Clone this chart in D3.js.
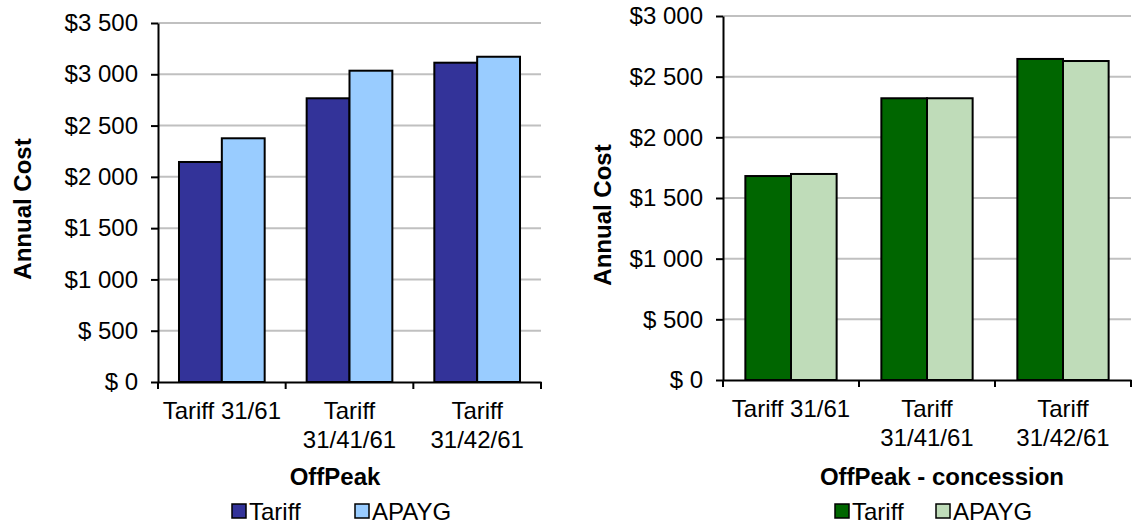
<!DOCTYPE html>
<html>
<head>
<meta charset="utf-8">
<script src="https://cdn.jsdelivr.net/npm/d3@7"></script>
<style>
  body { margin: 0; background: #fff; }
  text { font-family: "Liberation Sans", Arial, sans-serif; fill: #000; }
</style>
</head>
<body>
<div id="chart"></div>
<script>
// chart values
var categories = ["Tariff 31/61", "Tariff 31/41/61", "Tariff 31/42/61"];
var seriesNames = ["Tariff", "APAYG"];
var offPeakTariff = [2145, 2766, 3113];
var offPeakApayg = [2376, 3035, 3171];
var concessionTariff = [1681, 2322, 2646];
var concessionApayg = [1698, 2322, 2629];
var offPeakTicks = [0, 500, 1000, 1500, 2000, 2500, 3000, 3500];
var concessionTicks = [0, 500, 1000, 1500, 2000, 2500, 3000];

var svg = d3.select("#chart")
  .append("svg")
    .attr("width", 1136)
    .attr("height", 524);

function money(d) {
  if (d < 1000) return "$ " + d;
  var rest = String(d % 1000).padStart(3, "0");
  return "$" + Math.floor(d / 1000) + " " + rest;
}

function drawChart(c) {
  var g = svg.append("g");
  var x0 = d3.scaleBand().domain(categories).range([c.left, c.right]);
  var x1 = d3.scaleBand().domain(seriesNames).range([0, x0.bandwidth()]).paddingOuter(0.49);
  var y = d3.scaleLinear().domain([0, d3.max(c.ticks)]).range([c.bottom, c.top]);

  // gridlines
  g.append("g")
    .selectAll("line")
    .data(c.ticks.slice(1))
    .enter()
    .append("line")
      .attr("x1", c.left).attr("x2", c.right)
      .attr("y1", function(d) { return y(d); })
      .attr("y2", function(d) { return y(d); })
      .attr("stroke", "#c0c0c0")
      .attr("stroke-width", 2);

  // bars
  var rows = categories.map(function(cat, i) {
    return { cat: cat, vals: [c.values[0][i], c.values[1][i]] };
  });
  g.append("g")
    .selectAll("g")
    .data(rows)
    .enter()
    .append("g")
      .attr("transform", function(d) { return "translate(" + x0(d.cat) + ",0)"; })
    .selectAll("rect")
    .data(function(d) { return d.vals.map(function(v, j) { return { s: seriesNames[j], v: v, j: j }; }); })
    .enter()
    .append("rect")
      .attr("x", function(d) { return x1(d.s); })
      .attr("y", function(d) { return y(d.v); })
      .attr("width", x1.bandwidth())
      .attr("height", function(d) { return y(0) - y(d.v); })
      .attr("fill", function(d) { return c.colors[d.j]; })
      .attr("stroke", "#000")
      .attr("stroke-width", 2);

  // y axis
  var yAxis = g.append("g")
    .attr("transform", "translate(" + c.left + ",0)")
    .call(d3.axisLeft(y).tickValues(c.ticks).tickFormat(money).tickSize(7).tickPadding(13).tickSizeOuter(0));
  yAxis.select(".domain").attr("stroke-width", 2);
  yAxis.selectAll(".tick line").attr("stroke-width", 2);
  yAxis.selectAll("text").style("font-size", "24px").attr("fill", "#000");

  // x axis
  var xAxis = g.append("g")
    .attr("transform", "translate(0," + c.bottom + ")")
    .call(d3.axisBottom(x0).tickSize(0).tickFormat(""));
  xAxis.select(".domain").attr("stroke-width", 2);
  xAxis.selectAll(".tick").remove();
  var edges = categories.map(function(d) { return x0(d); }).concat([c.right]);
  g.append("g")
    .selectAll("line")
    .data(edges)
    .enter()
    .append("line")
      .attr("x1", function(d) { return d; }).attr("x2", function(d) { return d; })
      .attr("y1", c.bottom).attr("y2", c.bottom + 7)
      .attr("stroke", "#000").attr("stroke-width", 2);

  // category labels, wrapped like Excel
  categories.forEach(function(cat) {
    var cx = x0(cat) + x0.bandwidth() / 2;
    var t = g.append("text")
      .attr("x", cx).attr("y", c.bottom + 37)
      .attr("text-anchor", "middle")
      .style("font-size", "24px")
      .text(cat);
    if (t.node().getComputedTextLength() > x0.bandwidth() - 2) {
      var parts = cat.split(" ");
      t.text(parts[0]);
      g.append("text")
        .attr("x", cx).attr("y", c.bottom + 66)
        .attr("text-anchor", "middle")
        .style("font-size", "24px")
        .text(parts.slice(1).join(" "));
    }
  });

  // axis titles
  g.append("text")
    .attr("transform", "translate(" + c.yTitleX + "," + c.yTitleY + ") rotate(-90)")
    .attr("text-anchor", "middle")
    .style("font-size", "24px").style("font-weight", "bold")
    .text("Annual Cost");
  g.append("text")
    .attr("x", c.xTitleX).attr("y", 485)
    .attr("text-anchor", "middle")
    .style("font-size", "24px").style("font-weight", "bold")
    .text(c.title);

  // legend
  var leg = g.append("g").selectAll("g")
    .data(seriesNames)
    .enter()
    .append("g")
      .attr("transform", function(d, i) { return "translate(" + (c.legendX + i * c.legendStep) + ",504)"; });
  leg.append("rect")
    .attr("width", 14).attr("height", 14)
    .attr("fill", function(d, i) { return c.colors[i]; })
    .attr("stroke", "#000").attr("stroke-width", 1.5);
  leg.append("text")
    .attr("x", 17).attr("y", 16)
    .style("font-size", "24px")
    .text(function(d) { return d; });
}

drawChart({
  left: 158, right: 541, top: 23, bottom: 382,
  ticks: offPeakTicks,
  values: [offPeakTariff, offPeakApayg],
  colors: ["#333399", "#99ccff"],
  title: "OffPeak",
  xTitleX: 335, yTitleX: 31, yTitleY: 209,
  legendX: 232, legendStep: 123
});

drawChart({
  left: 723, right: 1131, top: 16, bottom: 380,
  ticks: concessionTicks,
  values: [concessionTariff, concessionApayg],
  colors: ["#006600", "#bfdcb9"],
  title: "OffPeak - concession",
  xTitleX: 942, yTitleX: 611, yTitleY: 215,
  legendX: 835, legendStep: 101
});
</script>
</body>
</html>
